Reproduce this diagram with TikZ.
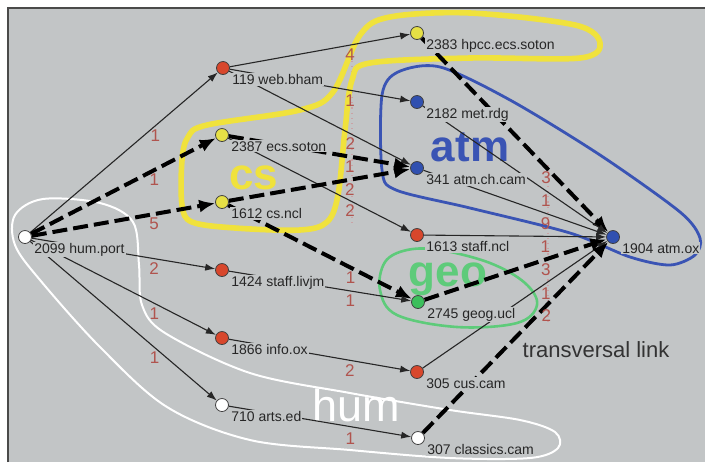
\documentclass[tikz,border=0pt]{standalone}
\usepackage{fontspec}
\setmainfont{Liberation Sans}
\usetikzlibrary{arrows.meta}
\definecolor{panelgray}{HTML}{C2C5C6}
\definecolor{framegray}{HTML}{4A4A4A}
\definecolor{csyellow}{HTML}{F0E23C}
\definecolor{atmblue}{HTML}{3A54B4}
\definecolor{geogreen}{HTML}{5ECB7A}
\definecolor{vxred}{HTML}{D8472C}
\definecolor{vxyellow}{HTML}{E6E046}
\definecolor{vxblue}{HTML}{3050B0}
\definecolor{vxgreen}{HTML}{3CBF5C}
\definecolor{weightred}{HTML}{B0544E}
\definecolor{guidepink}{HTML}{C9A3A6}
\pgfdeclarelayer{backlayer}
\pgfdeclarelayer{edgelayer}
\pgfsetlayers{backlayer,edgelayer,main}
\tikzset{
  vertex/.style={
    circle,
    draw=black!75,
    line width=0.4pt,
    minimum size=6.5pt,
    inner sep=0pt
  },
  redvx/.style={vertex, fill=vxred},
  yellowvx/.style={vertex, fill=vxyellow},
  bluevx/.style={vertex, fill=vxblue},
  greenvx/.style={vertex, fill=vxgreen},
  whitevx/.style={vertex, fill=white},
  namelbl/.style={
    fill=panelgray,
    inner sep=0.5pt,
    xshift=1.5pt,
    text=black!85,
    font=\fontsize{7}{8}\selectfont
  },
  grouplbl/.style={
    inner sep=0pt,
    font=\bfseries\fontsize{22}{24}\selectfont
  },
  link/.style={
    -{Latex[length=5pt,width=3.6pt]},
    line width=0.55pt,
    draw=black!85
  },
  strong/.style={
    -{Latex[length=8pt,width=6.5pt]},
    line width=2pt,
    draw=black,
    dash pattern=on 7.5pt off 3pt
  },
  weight/.style={
    pos=0.667,
    yshift=-5pt,
    inner sep=0pt,
    text=weightred,
    font=\fontsize{8.5}{9}\selectfont
  },
  hull/.style={line join=round}
}
\begin{document}
\begin{tikzpicture}[x=0.5pt, y=-0.5pt]
\useasboundingbox (0,0) rectangle (705,462);
\clip (0,0) rectangle (705,462);

% panel
\begin{pgfonlayer}{backlayer}
\fill[white] (0,0) rectangle (705,462);
\fill[panelgray] (8,8) rectangle (705,462);
\draw[framegray, line width=0.8pt] (8,462) -- (8,8) -- (705,8);
\draw[guidepink, dotted, line width=0.6pt] (352,45) -- (352,222);
\draw[guidepink, dotted, line width=0.6pt] (548,165) -- (548,322);

% group hulls
\draw[hull, csyellow, line width=2.8pt] plot[smooth cycle, tension=0.55] coordinates {
  (300,230) (327,222) (338,195) (345,130) (352,80) (370,63) (470,58)
  (580,58) (600,43) (575,25) (470,13) (390,17) (360,35) (333,92)
  (300,110) (207,125) (188,137) (182,160) (182,205) (192,222) (235,228)};
\draw[hull, atmblue, line width=1.4pt] plot[smooth cycle, tension=0.5] coordinates {
  (440,67) (398,72) (382,95) (382,170) (396,190) (470,208) (570,233)
  (630,257) (670,265) (695,255) (700,238) (680,212) (600,155) (510,100)};
\draw[hull, geogreen, line width=1.3pt] plot[smooth cycle, tension=0.6] coordinates {
  (407,250) (385,262) (380,290) (397,315) (457,327) (517,323)
  (537,305) (525,283) (490,263) (440,250)};
\draw[hull, white, line width=1pt] plot[smooth cycle, tension=0.55] coordinates {
  (43,199) (100,203) (133,222) (139,265) (142,305) (165,333) (250,373)
  (350,393) (450,410) (520,420) (555,432) (558,448) (530,458)
  (450,458) (350,450) (250,440) (167,407) (100,347) (40,280)
  (15,245) (15,215)};

% group names
\node[grouplbl, text=csyellow] (csname) at (254,178) {cs};
\node[grouplbl, text=atmblue] (atmname) at (470,147) {atm};
\node[grouplbl, text=geogreen] (geoname) at (448,279) {geo};
\node[grouplbl, text=white, font=\fontsize{22.5}{24}\selectfont] (humname) at (356,405) {hum};
\node[inner sep=0pt, text=black!80, font=\fontsize{11}{12}\selectfont] (translink) at (596,350) {transversal link};
\end{pgfonlayer}

% sites
\node[whitevx, label={[namelbl]south east:2099 hum.port}] (humport) at (25,237) {};
\node[redvx, label={[namelbl]south east:119 web.bham}] (webbham) at (223,68) {};
\node[yellowvx, label={[namelbl]south east:2387 ecs.soton}] (ecssoton) at (222,135) {};
\node[yellowvx, label={[namelbl]south east:1612 cs.ncl}] (csncl) at (222,202) {};
\node[redvx, label={[namelbl]south east:1424 staff.livjm}] (stafflivjm) at (222,270) {};
\node[redvx, label={[namelbl]south east:1866 info.ox}] (infoox) at (222,338) {};
\node[whitevx, label={[namelbl]south east:710 arts.ed}] (artsed) at (222,405) {};
\node[yellowvx, label={[namelbl]south east:2383 hpcc.ecs.soton}] (hpcc) at (417,33) {};
\node[bluevx, label={[namelbl]south east:2182 met.rdg}] (metrdg) at (417,102) {};
\node[bluevx, label={[namelbl]south east:341 atm.ch.cam}] (atmchcam) at (417,168) {};
\node[redvx, label={[namelbl]south east:1613 staff.ncl}] (staffncl) at (417,235) {};
\node[greenvx, label={[namelbl]south east:2745 geog.ucl}] (geogucl) at (418,302) {};
\node[redvx, label={[namelbl]south east:305 cus.cam}] (cuscam) at (417,372) {};
\node[whitevx, label={[namelbl]south east:307 classics.cam}] (classics) at (418,438) {};
\node[bluevx, label={[namelbl]south east:1904 atm.ox}] (atmox) at (613,237) {};

% links
\begin{pgfonlayer}{edgelayer}
\draw[link] (humport) -- node[weight] {1} (webbham);
\draw[strong] (humport) -- node[weight] {1} (ecssoton);
\draw[strong] (humport) -- node[weight] {5} (csncl);
\draw[link] (humport) -- node[weight] {2} (stafflivjm);
\draw[link] (humport) -- node[weight] {1} (infoox);
\draw[link] (humport) -- node[weight] {1} (artsed);
\draw[link] (webbham) -- node[weight] {4} (hpcc);
\draw[link] (webbham) -- node[weight] {1} (metrdg);
\draw[link] (webbham) -- node[weight] {2} (atmchcam);
\draw[strong] (ecssoton) -- node[weight] {1} (atmchcam);
\draw[link] (ecssoton) -- node[weight] {2} (staffncl);
\draw[strong] (csncl) -- node[weight] {2} (atmchcam);
\draw[strong] (csncl) -- node[weight] {1} (geogucl);
\draw[link] (stafflivjm) -- node[weight] {1} (geogucl);
\draw[link] (infoox) -- node[weight] {2} (cuscam);
\draw[link] (artsed) -- node[weight, yshift=-1pt] {1} (classics);
\draw[strong] (hpcc) -- node[weight] {3} (atmox);
\draw[link] (metrdg) -- node[weight] {1} (atmox);
\draw[link] (atmchcam) -- node[weight] {9} (atmox);
\draw[link] (staffncl) -- node[weight] {1} (atmox);
\draw[strong] (geogucl) -- node[weight] {3} (atmox);
\draw[link] (cuscam) -- node[weight] {1} (atmox);
\draw[strong] (classics) -- node[weight] {2} (atmox);
\end{pgfonlayer}
\end{tikzpicture}
\end{document}
